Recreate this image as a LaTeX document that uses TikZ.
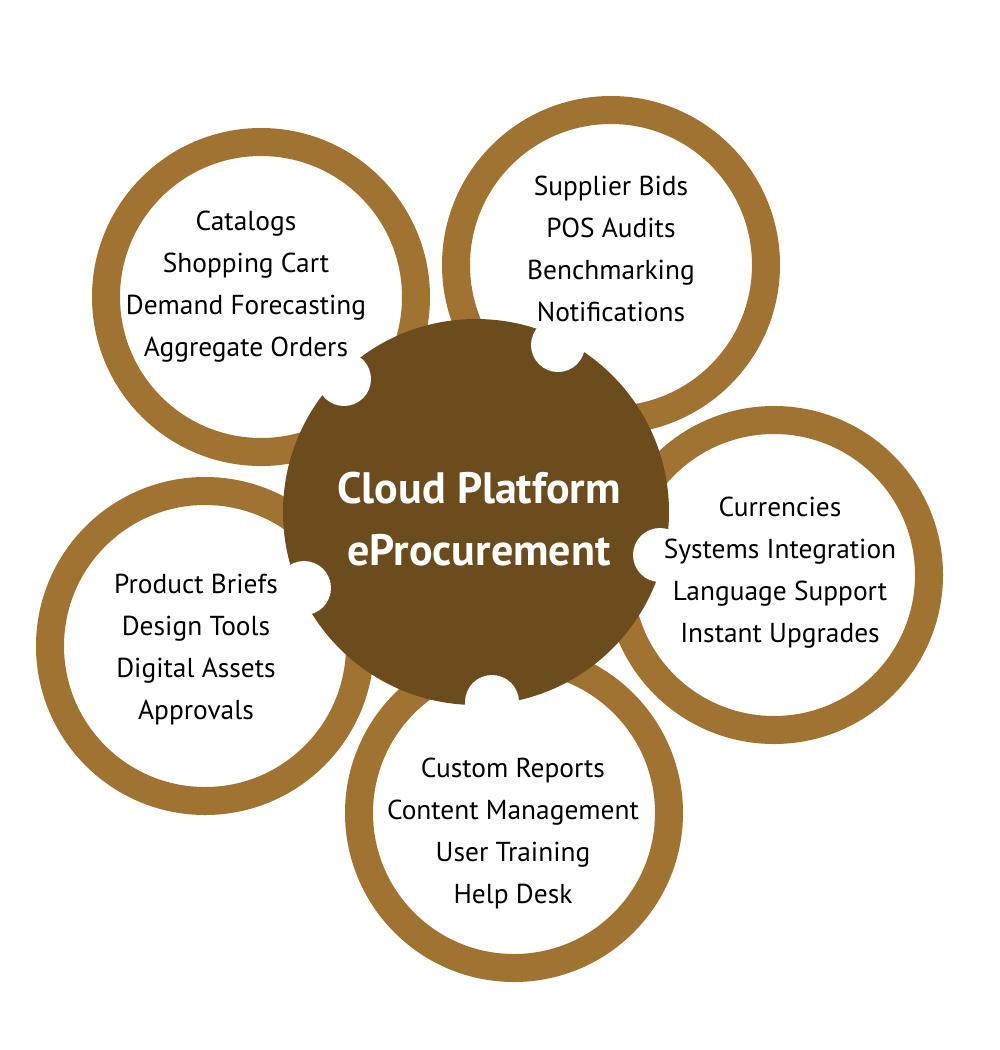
\documentclass[tikz,border=0pt]{standalone}
\usepackage{fontspec}
\setmainfont{PT Sans}
\definecolor{ringc}{RGB}{161,115,49}
\definecolor{hubc}{RGB}{108,76,29}
\begin{document}
\begin{tikzpicture}[x=1pt,y=-1pt,
  ring/.style={circle,draw=ringc,line width=28pt,minimum size=310pt,inner sep=0pt,outer sep=0pt},
  hub/.style={circle,fill=hubc,minimum size=386pt,inner sep=0pt,outer sep=0pt},
  notch/.style={circle,fill=white,minimum size=54pt,inner sep=0pt,outer sep=0pt},
  label/.style={align=center,text=black,font=\fontsize{27.4}{42}\selectfont,inner sep=0pt},
  hubtext/.style={align=center,text=white,font=\bfseries\fontsize{44}{62}\selectfont,inner sep=0pt}]
\useasboundingbox[fill=white] (0,0) rectangle (1000,1050);
% rings
\node[ring] (rtl) at (261,297) {};
\node[ring] (rtr) at (611,265) {};
\node[ring] (rr) at (774,575) {};
\node[ring] (rb) at (514,813) {};
\node[ring] (rl) at (205,646) {};
% hub
\node[hub] (hub) at (476,512) {};
% notches
\node[notch] (ntl) at (344,379) {};
\node[notch] (ntr) at (558,345) {};
\node[notch] (nr) at (660,555) {};
\node[notch] (nb) at (492,702) {};
\node[notch] (nl) at (304,588) {};
% texts
\node[hubtext] (ht) at (479,519) {Cloud Platform\\eProcurement};
\node[label] (ttl) at (246,287) {Catalogs\\Shopping Cart\\Demand Forecasting\\Aggregate Orders};
\node[label] (ttr) at (611,249) {Supplier Bids\\POS Audits\\Benchmarking\\Notifications};
\node[label] (tr) at (780,573) {Currencies\\Systems Integration\\Language Support\\Instant Upgrades};
\node[label] (tb) at (513,833) {Custom Reports\\Content Management\\User Training\\Help Desk};
\node[label] (tl) at (196,650) {Product Briefs\\Design Tools\\Digital Assets\\Approvals};
\end{tikzpicture}
\end{document}
